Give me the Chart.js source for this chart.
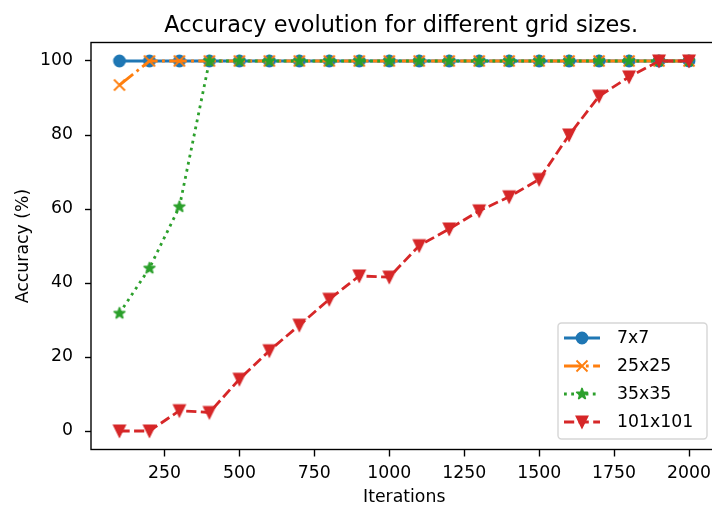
<!DOCTYPE html>
<html><head><meta charset="utf-8">
<script src="https://cdn.jsdelivr.net/npm/chart.js@4.4.0/dist/chart.umd.min.js"></script>
<style>html,body{margin:0;padding:0;overflow:hidden;background:#fff;width:712px;height:506px}canvas{display:block}</style>
</head><body>
<canvas id="c" width="730" height="506" style="width:730px;height:506px"></canvas>
<script>
// ---- data ----
const iterations = [100,200,300,400,500,600,700,800,900,1000,1100,1200,1300,1400,1500,1600,1700,1800,1900,2000];
const acc7x7     = [100,100,100,100,100,100,100,100,100,100,100,100,100,100,100,100,100,100,100,100];
const acc25x25   = [93.5,100,100,100,100,100,100,100,100,100,100,100,100,100,100,100,100,100,100,100];
const acc35x35   = [31.8,44,60.6,100,100,100,100,100,100,100,100,100,100,100,100,100,100,100,100,100];
const acc101x101 = [0,0,5.5,5.0,14,21.7,28.6,35.6,41.9,41.6,50.1,54.6,59.5,63.3,68.0,80.0,90.5,95.7,100,100];
const seriesNames = ['7x7','25x25','35x35','101x101'];
const xTicks = [250,500,750,1000,1250,1500,1750,2000];
const yTicks = [0,20,40,60,80,100];
const titleText = 'Accuracy evolution for different grid sizes.';
const xTitle = 'Iterations';
const yTitle = 'Accuracy (%)';

// ---- style ----
const FONT = 'DejaVu Sans';
const FS = 17.3;
const LW = 2.8;
const MS = 11;
const MEW = 1.8;
const colors = ['#1f77b4','#ff7f0e','#2ca02c','#d62728'];
const dashes = [[], [17.5,4.4,2.8,4.4], [2.8,4.4], [10.2,4.4]];
const kinds = ['circle','x','star','tri_down'];

function makeMarker(kind, color){
  const s = 26, m = s/2, r = MS/2;
  const c = document.createElement('canvas'); c.width = s; c.height = s;
  const g = c.getContext('2d');
  g.fillStyle = color; g.strokeStyle = color; g.lineWidth = MEW;
  g.beginPath();
  if (kind === 'circle') {
    g.arc(m, m, r, 0, Math.PI*2); g.fill(); g.stroke();
  } else if (kind === 'x') {
    g.moveTo(m-r, m-r); g.lineTo(m+r, m+r); g.moveTo(m-r, m+r); g.lineTo(m+r, m-r); g.stroke();
  } else if (kind === 'star') {
    const ri = r*0.381966;
    for (let i=0;i<10;i++){
      const a = -Math.PI/2 + i*Math.PI/5; const rr = i%2 ? ri : r;
      const px = m + rr*Math.cos(a), py = m + rr*Math.sin(a);
      if (i===0) g.moveTo(px,py); else g.lineTo(px,py);
    }
    g.closePath(); g.lineJoin='round'; g.fill(); g.stroke();
  } else {
    g.moveTo(m, m+r); g.lineTo(m-r, m-r); g.lineTo(m+r, m-r); g.closePath();
    g.lineJoin='miter'; g.fill(); g.stroke();
  }
  return c;
}
const markers = kinds.map((k,i)=>makeMarker(k, colors[i]));
const seriesValues = [acc7x7, acc25x25, acc35x35, acc101x101];

const datasets = seriesValues.map((vals, i) => ({
  label: seriesNames[i],
  data: iterations.map((x, j) => ({x, y: vals[j]})),
  borderColor: colors[i],
  backgroundColor: colors[i],
  borderWidth: LW,
  borderDash: dashes[i],
  borderCapStyle: 'butt',
  borderJoinStyle: 'round',
  tension: 0,
  fill: false,
  pointStyle: markers[i],
  pointRadius: 6,
  pointHoverRadius: 6,
  order: 3 - i
}));

const framePlugin = {
  id: 'frame',
  afterDatasetsDraw(chart){
    const {ctx, chartArea: a} = chart;
    ctx.save();
    // spines
    ctx.strokeStyle = '#000'; ctx.lineWidth = 1.39; ctx.setLineDash([]);
    ctx.strokeRect(a.left, a.top, a.right - a.left, a.bottom - a.top);
    // legend
    const bx = 558, by = 323, bw = 149, bh = 116, rad = 3.5;
    ctx.beginPath();
    ctx.moveTo(bx+rad, by); ctx.lineTo(bx+bw-rad, by); ctx.arcTo(bx+bw, by, bx+bw, by+rad, rad);
    ctx.lineTo(bx+bw, by+bh-rad); ctx.arcTo(bx+bw, by+bh, bx+bw-rad, by+bh, rad);
    ctx.lineTo(bx+rad, by+bh); ctx.arcTo(bx, by+bh, bx, by+bh-rad, rad);
    ctx.lineTo(bx, by+rad); ctx.arcTo(bx, by, bx+rad, by, rad); ctx.closePath();
    ctx.fillStyle = 'rgba(255,255,255,0.8)'; ctx.fill();
    ctx.strokeStyle = 'rgba(204,204,204,0.8)'; ctx.lineWidth = 1.4; ctx.stroke();
    chart.data.datasets.forEach((ds, i) => {
      const cy = 338 + i*28;
      ctx.beginPath();
      ctx.strokeStyle = ds.borderColor; ctx.lineWidth = LW; ctx.lineCap = 'butt';
      ctx.setLineDash(ds.borderDash);
      ctx.moveTo(564, cy); ctx.lineTo(600, cy); ctx.stroke();
      ctx.setLineDash([]);
      const mk = ds.pointStyle;
      ctx.drawImage(mk, 582 - mk.width/2, cy - mk.height/2);
      ctx.fillStyle = '#000'; ctx.font = FS + 'px "' + FONT + '"';
      ctx.textAlign = 'left'; ctx.textBaseline = 'middle';
      ctx.fillText(ds.label, 617, cy + 1);
    });
    // title
    ctx.fillStyle = '#000'; ctx.font = '22.4px "' + FONT + '"';
    ctx.textAlign = 'center'; ctx.textBaseline = 'alphabetic';
    ctx.fillText(titleText, (a.left + a.right)/2 - 3, 32);
    ctx.restore();
  }
};

new Chart(document.getElementById('c'), {
  type: 'line',
  data: { datasets },
  options: {
    responsive: false,
    animation: false,
    devicePixelRatio: 1,
    layout: { padding: { left: 0, right: 12.5, top: 42.5, bottom: 0 } },
    plugins: { legend: { display: false }, title: { display: false }, tooltip: { enabled: false } },
    scales: {
      x: {
        type: 'linear', min: 5, max: 2095,
        afterBuildTicks: s => { s.ticks = xTicks.map(v => ({value: v})); },
        afterFit: s => { s.height = 56.5; },
        grid: { display: true, drawOnChartArea: false, drawTicks: true, tickLength: 7, tickWidth: 1.39, tickColor: '#000' },
        border: { display: false },
        ticks: { color: '#000', font: { family: FONT, size: FS }, padding: 7, maxRotation: 0, autoSkip: false,
                 callback: v => String(v) },
        title: { display: true, text: xTitle, color: '#000', font: { family: FONT, size: FS }, padding: { top: 0, bottom: -2 } }
      },
      y: {
        type: 'linear', min: -5, max: 105,
        afterBuildTicks: s => { s.ticks = yTicks.map(v => ({value: v})); },
        afterFit: s => { s.width = 91; },
        grid: { display: true, drawOnChartArea: false, drawTicks: true, tickLength: 6, tickWidth: 1.39, tickColor: '#000' },
        border: { display: false },
        ticks: { color: '#000', font: { family: FONT, size: FS }, padding: 12, autoSkip: false,
                 callback: v => String(v) },
        title: { display: true, text: yTitle, color: '#000', font: { family: FONT, size: FS }, padding: { top: 13, bottom: 0 } }
      }
    }
  },
  plugins: [framePlugin]
});
</script>
</body></html>
